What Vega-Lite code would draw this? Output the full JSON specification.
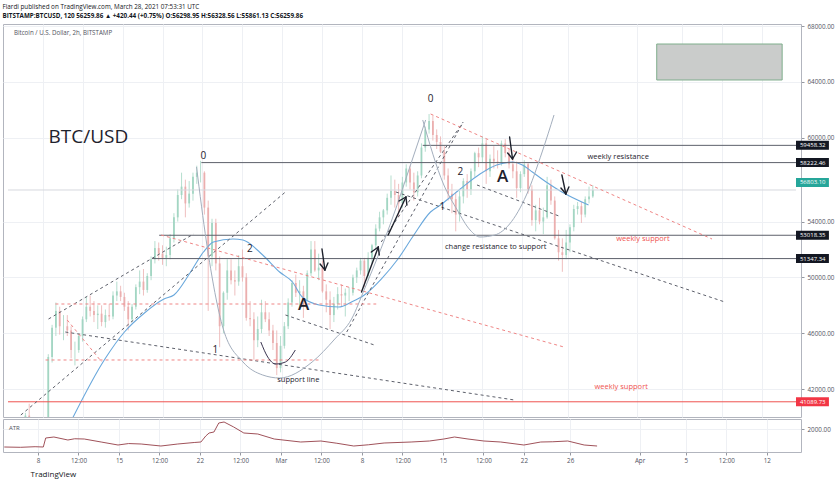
{
"$schema":"https://vega.github.io/schema/vega-lite/v6.json",
"background":"white",
"padding":{"left":2,"top":3,"right":0,"bottom":0},
"title":{"text":"Fiardi published on TradingView.com, March 28, 2021 07:53:31 UTC","subtitle":"BITSTAMP:BTCUSD, 120  56259.86 ▲ +420.44 (+0.75%)  O:56298.95  H:56328.56  L:55861.13  C:56259.86","anchor":"start","fontSize":6.3,"fontWeight":"normal","color":"#131722","subtitleFontSize":6.3,"subtitleFontWeight":"bold","subtitleColor":"#131722","subtitlePadding":2.7,"offset":3.7,"font":"Open Sans","subtitleFont":"Open Sans"},
"spacing":0,
"resolve":{"scale":{"x":"independent","y":"independent"}},
"vconcat":[
{"width":798,"height":393,
"resolve":{"scale":{"color":"independent"}},
"layer":[
{"data":{"values":[
{"t":"2021-02-05T04:00Z","o":36936,"h":37400,"l":36600,"c":37200},
{"t":"2021-02-05T12:00Z","o":37200,"h":37900,"l":36900,"c":37700},
{"t":"2021-02-05T20:00Z","o":37700,"h":38300,"l":37400,"c":38290},
{"t":"2021-02-06T04:00Z","o":38290,"h":39200,"l":38100,"c":39000},
{"t":"2021-02-06T12:00Z","o":39000,"h":40300,"l":38800,"c":40100},
{"t":"2021-02-06T20:00Z","o":40100,"h":40950,"l":39700,"c":39260},
{"t":"2021-02-07T04:00Z","o":39260,"h":39600,"l":38600,"c":38900},
{"t":"2021-02-07T12:00Z","o":38900,"h":39200,"l":37400,"c":38200},
{"t":"2021-02-07T20:00Z","o":38200,"h":39000,"l":37800,"c":38900},
{"t":"2021-02-08T04:00Z","o":38900,"h":39500,"l":38000,"c":38800},
{"t":"2021-02-08T12:00Z","o":38800,"h":44500,"l":38700,"c":44300},
{"t":"2021-02-08T20:00Z","o":44300,"h":46600,"l":43900,"c":46400},
{"t":"2021-02-09T04:00Z","o":46400,"h":48200,"l":45800,"c":47600},
{"t":"2021-02-09T12:00Z","o":47600,"h":47900,"l":45900,"c":46500},
{"t":"2021-02-09T20:00Z","o":46500,"h":47300,"l":45500,"c":46500},
{"t":"2021-02-10T04:00Z","o":46500,"h":47300,"l":45800,"c":46200},
{"t":"2021-02-10T12:00Z","o":46200,"h":46500,"l":44200,"c":44800},
{"t":"2021-02-10T20:00Z","o":44800,"h":45400,"l":43700,"c":44800},
{"t":"2021-02-11T04:00Z","o":44800,"h":46000,"l":44600,"c":45800},
{"t":"2021-02-11T12:00Z","o":45800,"h":47200,"l":45400,"c":47000},
{"t":"2021-02-11T20:00Z","o":47000,"h":48600,"l":46800,"c":47900},
{"t":"2021-02-12T04:00Z","o":47900,"h":48700,"l":47200,"c":47600},
{"t":"2021-02-12T12:00Z","o":47600,"h":48300,"l":46800,"c":47300},
{"t":"2021-02-12T20:00Z","o":47300,"h":48000,"l":46300,"c":47400},
{"t":"2021-02-13T04:00Z","o":47400,"h":48000,"l":46500,"c":46800},
{"t":"2021-02-13T12:00Z","o":46800,"h":47700,"l":46400,"c":47300},
{"t":"2021-02-13T20:00Z","o":47300,"h":48100,"l":46900,"c":47200},
{"t":"2021-02-14T04:00Z","o":47200,"h":49000,"l":47000,"c":48700},
{"t":"2021-02-14T12:00Z","o":48700,"h":49700,"l":48300,"c":49000},
{"t":"2021-02-14T20:00Z","o":49000,"h":49400,"l":48300,"c":48600},
{"t":"2021-02-15T04:00Z","o":48600,"h":48900,"l":47600,"c":47900},
{"t":"2021-02-15T12:00Z","o":47900,"h":48300,"l":46200,"c":47000},
{"t":"2021-02-15T20:00Z","o":47000,"h":48100,"l":46800,"c":47900},
{"t":"2021-02-16T04:00Z","o":47900,"h":49500,"l":47700,"c":49300},
{"t":"2021-02-16T12:00Z","o":49300,"h":50500,"l":48800,"c":49700},
{"t":"2021-02-16T20:00Z","o":49700,"h":50600,"l":48700,"c":49100},
{"t":"2021-02-17T04:00Z","o":49100,"h":50300,"l":48900,"c":50100},
{"t":"2021-02-17T12:00Z","o":50100,"h":51500,"l":49800,"c":51300},
{"t":"2021-02-17T20:00Z","o":51300,"h":52600,"l":51000,"c":52100},
{"t":"2021-02-18T04:00Z","o":52100,"h":52500,"l":51200,"c":51700},
{"t":"2021-02-18T12:00Z","o":51700,"h":52300,"l":50900,"c":51400},
{"t":"2021-02-18T20:00Z","o":51400,"h":52200,"l":50800,"c":51600},
{"t":"2021-02-19T04:00Z","o":51600,"h":53100,"l":51300,"c":52800},
{"t":"2021-02-19T12:00Z","o":52800,"h":54600,"l":52500,"c":54300},
{"t":"2021-02-19T20:00Z","o":54300,"h":56300,"l":54000,"c":55900},
{"t":"2021-02-20T04:00Z","o":55900,"h":57500,"l":55600,"c":56500},
{"t":"2021-02-20T12:00Z","o":56500,"h":57000,"l":54300,"c":55300},
{"t":"2021-02-20T20:00Z","o":55300,"h":56900,"l":55000,"c":56000},
{"t":"2021-02-21T04:00Z","o":56000,"h":57500,"l":55500,"c":57200},
{"t":"2021-02-21T12:00Z","o":57200,"h":58000,"l":56700,"c":57500},
{"t":"2021-02-21T20:00Z","o":57500,"h":58350,"l":56800,"c":57500},
{"t":"2021-02-22T04:00Z","o":57500,"h":57600,"l":54500,"c":55000},
{"t":"2021-02-22T12:00Z","o":55000,"h":55500,"l":47600,"c":51500},
{"t":"2021-02-22T20:00Z","o":51500,"h":54200,"l":50800,"c":53900},
{"t":"2021-02-23T04:00Z","o":53900,"h":54200,"l":50500,"c":51000},
{"t":"2021-02-23T12:00Z","o":51000,"h":51500,"l":45000,"c":46500},
{"t":"2021-02-23T20:00Z","o":46500,"h":49000,"l":46000,"c":48900},
{"t":"2021-02-24T04:00Z","o":48900,"h":51300,"l":48400,"c":50500},
{"t":"2021-02-24T12:00Z","o":50500,"h":51300,"l":49500,"c":49800},
{"t":"2021-02-24T20:00Z","o":49800,"h":50500,"l":48700,"c":49700},
{"t":"2021-02-25T04:00Z","o":49700,"h":51600,"l":49400,"c":50800},
{"t":"2021-02-25T12:00Z","o":50800,"h":52000,"l":49700,"c":50000},
{"t":"2021-02-25T20:00Z","o":50000,"h":50300,"l":46900,"c":47100},
{"t":"2021-02-26T04:00Z","o":47100,"h":48300,"l":46500,"c":47000},
{"t":"2021-02-26T12:00Z","o":47000,"h":47500,"l":44100,"c":45500},
{"t":"2021-02-26T20:00Z","o":45500,"h":47200,"l":45000,"c":46300},
{"t":"2021-02-27T04:00Z","o":46300,"h":48400,"l":46000,"c":47500},
{"t":"2021-02-27T12:00Z","o":47500,"h":48300,"l":46800,"c":47000},
{"t":"2021-02-27T20:00Z","o":47000,"h":47500,"l":45800,"c":46200},
{"t":"2021-02-28T04:00Z","o":46200,"h":46600,"l":44800,"c":45300},
{"t":"2021-02-28T12:00Z","o":45300,"h":46200,"l":43000,"c":43500},
{"t":"2021-02-28T20:00Z","o":43500,"h":45800,"l":43200,"c":45100},
{"t":"2021-03-01T04:00Z","o":45100,"h":46800,"l":44900,"c":46500},
{"t":"2021-03-01T12:00Z","o":46500,"h":48500,"l":46300,"c":48200},
{"t":"2021-03-01T20:00Z","o":48200,"h":49800,"l":47900,"c":49600},
{"t":"2021-03-02T04:00Z","o":49600,"h":50200,"l":48600,"c":48900},
{"t":"2021-03-02T12:00Z","o":48900,"h":49800,"l":47800,"c":49000},
{"t":"2021-03-02T20:00Z","o":49000,"h":49400,"l":47100,"c":48400},
{"t":"2021-03-03T04:00Z","o":48400,"h":50500,"l":48300,"c":50300},
{"t":"2021-03-03T12:00Z","o":50300,"h":52600,"l":50100,"c":52000},
{"t":"2021-03-03T20:00Z","o":52000,"h":52600,"l":50400,"c":50500},
{"t":"2021-03-04T04:00Z","o":50500,"h":51700,"l":49800,"c":50700},
{"t":"2021-03-04T12:00Z","o":50700,"h":51200,"l":48900,"c":49000},
{"t":"2021-03-04T20:00Z","o":49000,"h":49500,"l":47500,"c":48400},
{"t":"2021-03-05T04:00Z","o":48400,"h":49000,"l":46300,"c":47300},
{"t":"2021-03-05T12:00Z","o":47300,"h":48600,"l":46800,"c":48100},
{"t":"2021-03-05T20:00Z","o":48100,"h":49300,"l":47700,"c":48800},
{"t":"2021-03-06T04:00Z","o":48800,"h":49500,"l":47900,"c":48700},
{"t":"2021-03-06T12:00Z","o":48700,"h":49200,"l":47200,"c":48900},
{"t":"2021-03-06T20:00Z","o":48900,"h":49300,"l":48300,"c":48900},
{"t":"2021-03-07T04:00Z","o":48900,"h":50200,"l":48700,"c":50000},
{"t":"2021-03-07T12:00Z","o":50000,"h":50700,"l":49600,"c":50500},
{"t":"2021-03-07T20:00Z","o":50500,"h":51400,"l":50200,"c":51200},
{"t":"2021-03-08T04:00Z","o":51200,"h":51400,"l":49300,"c":50100},
{"t":"2021-03-08T12:00Z","o":50100,"h":51800,"l":49800,"c":51400},
{"t":"2021-03-08T20:00Z","o":51400,"h":52400,"l":51000,"c":52300},
{"t":"2021-03-09T04:00Z","o":52300,"h":53800,"l":52100,"c":53500},
{"t":"2021-03-09T12:00Z","o":53500,"h":54700,"l":53300,"c":54300},
{"t":"2021-03-09T20:00Z","o":54300,"h":54900,"l":53800,"c":54800},
{"t":"2021-03-10T04:00Z","o":54800,"h":56000,"l":54500,"c":55700},
{"t":"2021-03-10T12:00Z","o":55700,"h":57300,"l":55200,"c":56200},
{"t":"2021-03-10T20:00Z","o":56200,"h":57000,"l":55000,"c":55900},
{"t":"2021-03-11T04:00Z","o":55900,"h":56700,"l":54300,"c":55300},
{"t":"2021-03-11T12:00Z","o":55300,"h":57200,"l":55000,"c":56800},
{"t":"2021-03-11T20:00Z","o":56800,"h":58100,"l":56500,"c":57800},
{"t":"2021-03-12T04:00Z","o":57800,"h":58000,"l":56300,"c":56800},
{"t":"2021-03-12T12:00Z","o":56800,"h":57500,"l":55500,"c":56100},
{"t":"2021-03-12T20:00Z","o":56100,"h":57600,"l":55800,"c":57300},
{"t":"2021-03-13T04:00Z","o":57300,"h":59600,"l":57100,"c":59300},
{"t":"2021-03-13T12:00Z","o":59300,"h":60800,"l":59000,"c":60600},
{"t":"2021-03-13T20:00Z","o":60600,"h":61700,"l":60300,"c":61200},
{"t":"2021-03-14T04:00Z","o":61200,"h":61600,"l":59800,"c":60200},
{"t":"2021-03-14T12:00Z","o":60200,"h":60600,"l":59200,"c":59700},
{"t":"2021-03-14T20:00Z","o":59700,"h":60100,"l":58900,"c":59000},
{"t":"2021-03-15T04:00Z","o":59000,"h":59400,"l":57000,"c":57300},
{"t":"2021-03-15T12:00Z","o":57300,"h":57800,"l":55500,"c":56000},
{"t":"2021-03-15T20:00Z","o":56000,"h":56700,"l":54600,"c":55600},
{"t":"2021-03-16T04:00Z","o":55600,"h":56100,"l":53300,"c":54500},
{"t":"2021-03-16T12:00Z","o":54500,"h":56200,"l":54000,"c":55800},
{"t":"2021-03-16T20:00Z","o":55800,"h":57100,"l":55300,"c":56900},
{"t":"2021-03-17T04:00Z","o":56900,"h":57400,"l":55700,"c":56300},
{"t":"2021-03-17T12:00Z","o":56300,"h":57800,"l":55900,"c":57600},
{"t":"2021-03-17T20:00Z","o":57600,"h":59000,"l":57200,"c":58900},
{"t":"2021-03-18T04:00Z","o":58900,"h":59300,"l":57900,"c":58600},
{"t":"2021-03-18T12:00Z","o":58600,"h":60100,"l":58200,"c":59600},
{"t":"2021-03-18T20:00Z","o":59600,"h":59900,"l":56700,"c":57600},
{"t":"2021-03-19T04:00Z","o":57600,"h":58800,"l":57200,"c":58500},
{"t":"2021-03-19T12:00Z","o":58500,"h":59400,"l":57800,"c":58300},
{"t":"2021-03-19T20:00Z","o":58300,"h":59100,"l":57800,"c":58200},
{"t":"2021-03-20T04:00Z","o":58200,"h":59800,"l":58000,"c":59600},
{"t":"2021-03-20T12:00Z","o":59600,"h":59900,"l":58600,"c":58900},
{"t":"2021-03-20T20:00Z","o":58900,"h":59200,"l":57800,"c":58100},
{"t":"2021-03-21T04:00Z","o":58100,"h":58600,"l":57100,"c":57600},
{"t":"2021-03-21T12:00Z","o":57600,"h":58300,"l":55700,"c":56400},
{"t":"2021-03-21T20:00Z","o":56400,"h":57600,"l":56100,"c":57400},
{"t":"2021-03-22T04:00Z","o":57400,"h":58400,"l":57200,"c":58100},
{"t":"2021-03-22T12:00Z","o":58100,"h":58200,"l":56000,"c":56300},
{"t":"2021-03-22T20:00Z","o":56300,"h":56600,"l":53700,"c":54100},
{"t":"2021-03-23T04:00Z","o":54100,"h":55200,"l":53300,"c":54800},
{"t":"2021-03-23T12:00Z","o":54800,"h":55700,"l":53800,"c":54000},
{"t":"2021-03-23T20:00Z","o":54000,"h":55000,"l":53100,"c":54300},
{"t":"2021-03-24T04:00Z","o":54300,"h":57200,"l":54200,"c":56600},
{"t":"2021-03-24T12:00Z","o":56600,"h":57000,"l":55200,"c":55500},
{"t":"2021-03-24T20:00Z","o":55500,"h":55800,"l":52700,"c":52800},
{"t":"2021-03-25T04:00Z","o":52800,"h":53400,"l":51200,"c":51800},
{"t":"2021-03-25T12:00Z","o":51800,"h":52800,"l":50400,"c":51600},
{"t":"2021-03-25T20:00Z","o":51600,"h":53400,"l":51300,"c":52500},
{"t":"2021-03-26T04:00Z","o":52500,"h":53800,"l":51800,"c":53600},
{"t":"2021-03-26T12:00Z","o":53600,"h":55200,"l":53300,"c":54900},
{"t":"2021-03-26T20:00Z","o":54900,"h":55400,"l":54500,"c":55100},
{"t":"2021-03-27T04:00Z","o":55100,"h":55400,"l":53900,"c":54500},
{"t":"2021-03-27T12:00Z","o":54500,"h":55800,"l":54300,"c":55600},
{"t":"2021-03-27T20:00Z","o":55600,"h":56500,"l":55300,"c":55800},
{"t":"2021-03-28T04:00Z","o":55800,"h":56600,"l":55700,"c":56260}
],"format":{"parse":{"t":"date"}}},
"layer":[
{"mark":{"type":"rule","strokeWidth":0.8,"clip":true},
"encoding":{
"x":{"field":"t","type":"temporal","title":null,"scale":{"type":"utc","domain":[{"year":2021,"month":2,"date":4,"hours":23,"minutes":24,"utc":true},{"year":2021,"month":4,"date":14,"hours":22,"minutes":50,"utc":true}]},
"axis":{"orient":"bottom","values":[{"year":2021,"month":2,"date":8,"utc":true},{"year":2021,"month":2,"date":11,"hours":12,"utc":true},{"year":2021,"month":2,"date":15,"utc":true},{"year":2021,"month":2,"date":18,"hours":12,"utc":true},{"year":2021,"month":2,"date":22,"utc":true},{"year":2021,"month":2,"date":25,"hours":12,"utc":true},{"year":2021,"month":3,"date":1,"utc":true},{"year":2021,"month":3,"date":4,"hours":12,"utc":true},{"year":2021,"month":3,"date":8,"utc":true},{"year":2021,"month":3,"date":11,"hours":12,"utc":true},{"year":2021,"month":3,"date":15,"utc":true},{"year":2021,"month":3,"date":18,"hours":12,"utc":true},{"year":2021,"month":3,"date":22,"utc":true},{"year":2021,"month":3,"date":26,"utc":true},{"year":2021,"month":4,"date":1,"utc":true},{"year":2021,"month":4,"date":5,"utc":true},{"year":2021,"month":4,"date":8,"hours":12,"utc":true},{"year":2021,"month":4,"date":12,"utc":true}],"labels":false,"ticks":false,"domain":false,"grid":true}},
"y":{"field":"l","type":"quantitative","title":null,"scale":{"domain":[40000,68150],"nice":false,"zero":false},
"axis":{"orient":"right","values":[42000,44000,46000,48000,50000,52000,54000,56000,60000,62000,64000,66000,68000],"format":".2f","grid":true,"tickSize":3,"labelPadding":3}},
"y2":{"field":"h"},
"color":{"condition":{"test":"datum.c >= datum.o","value":"#a3d6c3"},"value":"#ebafaf"}}},
{"mark":{"type":"bar","size":1.8,"clip":true},
"encoding":{
"x":{"field":"t","type":"temporal","title":null},
"y":{"field":"o","type":"quantitative","title":null},
"y2":{"field":"c"},
"color":{"condition":{"test":"datum.c >= datum.o","value":"#a3d6c3"},"value":"#ebafaf"}}}
]},
{"data":{"values":[
{"t":"2021-02-10T06:00Z","p":39300},{"t":"2021-02-13T11:00Z","p":44154},{"t":"2021-02-15T04:00Z","p":46088},{"t":"2021-02-16T22:00Z","p":47450},{"t":"2021-02-18T15:00Z","p":48452},{"t":"2021-02-19T12:00Z","p":48738},{"t":"2021-02-20T23:00Z","p":50386},{"t":"2021-02-22T02:00Z","p":51818},{"t":"2021-02-22T23:00Z","p":52534},{"t":"2021-02-24T16:00Z","p":52750},{"t":"2021-02-25T13:00Z","p":52678},{"t":"2021-02-27T06:30Z","p":51603},{"t":"2021-02-28T18:00Z","p":50386},{"t":"2021-03-01T21:00Z","p":49670},{"t":"2021-03-02T17:30Z","p":48595},{"t":"2021-03-04T05:00Z","p":48022},{"t":"2021-03-05T22:20Z","p":47879},{"t":"2021-03-07T01:00Z","p":48237},{"t":"2021-03-08T04:00Z","p":48738},{"t":"2021-03-09T15:30Z","p":49884},{"t":"2021-03-11T02:40Z","p":51317},{"t":"2021-03-12T12:00Z","p":53036},{"t":"2021-03-13T23:00Z","p":54683},{"t":"2021-03-14T20:00Z","p":55185},{"t":"2021-03-16T13:30Z","p":56331},{"t":"2021-03-18T07:00Z","p":57406},{"t":"2021-03-19T18:00Z","p":58050},{"t":"2021-03-21T03:20Z","p":58265},{"t":"2021-03-22T00:00Z","p":58050},{"t":"2021-03-22T21:00Z","p":57549},{"t":"2021-03-24T02:00Z","p":56832},{"t":"2021-03-25T11:00Z","p":56116},{"t":"2021-03-27T19:00Z","p":55185}
],"format":{"parse":{"t":"date"}}},
"mark":{"type":"line","color":"#6aa8dc","strokeWidth":1.1,"interpolate":"monotone","clip":true},
"encoding":{"x":{"field":"t","type":"temporal","title":null},"y":{"field":"p","type":"quantitative","title":null}}},
{"data":{"values":[
{"t":"2021-03-13T06:40Z","p":59458.32,"kind":"level"},
{"t":"2021-02-21T21:40Z","p":58222.46,"kind":"level"},
{"t":"2021-02-18T05:00Z","p":53018.35,"kind":"level"},
{"t":"2021-02-17T14:00Z","p":51347.34,"kind":"level"},
{"t":"2021-02-04T23:24Z","p":41089.73,"kind":"red"},
{"t":"2021-02-04T23:24Z","p":56259.86,"kind":"price"}
],"format":{"parse":{"t":"date"}}},
"mark":{"type":"rule","strokeWidth":1},
"encoding":{"x":{"field":"t","type":"temporal","title":null},"x2":{"datum":{"year":2021,"month":4,"date":14,"hours":22,"minutes":50,"utc":true}},"y":{"field":"p","type":"quantitative","title":null},
"color":{"field":"kind","type":"nominal","legend":null,"scale":{"domain":["level","red","price"],"range":["#5d606b","#ef5350","#d6d8de"]}}}},
{"data":{"values":[
{"t":"2021-02-08T12:30Z","p":47019,"t2":"2021-02-21T05:20Z","p2":53107,"kind":"black"},
{"t":"2021-02-06T02:24Z","p":40143,"t2":"2021-03-01T06:15Z","p2":56116,"kind":"black"},
{"t":"2021-02-09T23:50Z","p":46088,"t2":"2021-03-21T07:30Z","p2":41217,"kind":"black"},
{"t":"2021-03-01T06:15Z","p":47306,"t2":"2021-03-09T01:00Z","p2":45157,"kind":"black"},
{"t":"2021-03-10T22:30Z","p":56116,"t2":"2021-04-08T17:20Z","p2":48237,"kind":"black"},
{"t":"2021-03-18T00:40Z","p":56618,"t2":"2021-03-25T04:50Z","p2":54397,"kind":"black"},
{"t":"2021-03-06T15:00Z","p":46088,"t2":"2021-03-16T17:30Z","p2":60987,"kind":"black"},
{"t":"2021-03-09T15:30Z","p":52534,"t2":"2021-03-16T19:40Z","p2":61130,"kind":"black"},
{"t":"2021-02-09T03:00Z","p":48094,"t2":"2021-03-09T05:00Z","p2":48094,"kind":"red"},
{"t":"2021-02-08T06:15Z","p":44083,"t2":"2021-03-04T05:00Z","p2":44083,"kind":"red"},
{"t":"2021-02-18T09:00Z","p":53036,"t2":"2021-03-25T15:20Z","p2":45013,"kind":"red"},
{"t":"2021-03-13T23:15Z","p":61703,"t2":"2021-04-07T14:25Z","p2":52750,"kind":"red"},
{"t":"2021-02-10T03:50Z","p":46947,"t2":"2021-02-13T04:30Z","p2":43939,"kind":"red"}
],"format":{"parse":{"t":"date","t2":"date"}}},
"mark":{"type":"rule","strokeWidth":1,"strokeDash":[3,3]},
"encoding":{"x":{"field":"t","type":"temporal","title":null},"x2":{"field":"t2"},"y":{"field":"p","type":"quantitative","title":null},"y2":{"field":"p2"},
"color":{"field":"kind","type":"nominal","legend":null,"scale":{"domain":["black","red"],"range":["#5d606b","#ef8585"]}}}},
{"data":{"values":[
{"arc":"cup","t":"2021-02-21T11:30Z","p":57907},{"arc":"cup","t":"2021-02-22T08:20Z","p":52534},{"arc":"cup","t":"2021-02-23T19:40Z","p":46303},{"arc":"cup","t":"2021-02-25T13:10Z","p":43939},{"arc":"cup","t":"2021-02-27T06:30Z","p":43008},{"arc":"cup","t":"2021-02-28T17:50Z","p":42793},{"arc":"cup","t":"2021-03-03T14:20Z","p":43939},{"arc":"cup","t":"2021-03-05T14:00Z","p":45586},{"arc":"cup","t":"2021-03-07T01:10Z","p":47019},{"arc":"cup","t":"2021-03-08T04:20Z","p":49168},{"arc":"cup","t":"2021-03-10T12:10Z","p":53967},{"arc":"cup","t":"2021-03-12T12:00Z","p":58767},{"arc":"cup","t":"2021-03-13T12:45Z","p":61274},
{"arc":"cup2","t":"2021-03-13T06:40Z","p":61274},{"arc":"cup2","t":"2021-03-15T02:10Z","p":56689},{"arc":"cup2","t":"2021-03-16T07:10Z","p":54827},{"arc":"cup2","t":"2021-03-17T10:10Z","p":53394},{"arc":"cup2","t":"2021-03-18T07:00Z","p":52893},{"arc":"cup2","t":"2021-03-19T14:00Z","p":53036},{"arc":"cup2","t":"2021-03-20T21:10Z","p":53824},{"arc":"cup2","t":"2021-03-22T08:30Z","p":55901},{"arc":"cup2","t":"2021-03-23T17:30Z","p":58982},{"arc":"cup2","t":"2021-03-24T18:30Z","p":61632},
{"arc":"small","t":"2021-02-27T02:30Z","p":45372},{"arc":"small","t":"2021-02-27T17:00Z","p":44298},{"arc":"small","t":"2021-02-28T09:40Z","p":43796},{"arc":"small","t":"2021-03-01T06:15Z","p":43939},{"arc":"small","t":"2021-03-02T03:00Z","p":44799}
],"format":{"parse":{"t":"date"}}},
"mark":{"type":"line","strokeWidth":1,"interpolate":"monotone"},
"encoding":{"x":{"field":"t","type":"temporal","title":null},"y":{"field":"p","type":"quantitative","title":null},"detail":{"field":"arc"},
"color":{"field":"arc","type":"nominal","legend":null,"scale":{"domain":["cup","cup2","small"],"range":["#a3aebd","#a3aebd","#3a3450"]}}}},
{"data":{"values":[
{"t":"2021-03-04T11:00Z","p":52033,"t2":"2021-03-04T17:15Z","p2":50529},
{"t":"2021-03-04T07:00Z","p":50959,"t2":"2021-03-04T17:15Z","p2":50529},
{"t":"2021-03-04T23:30Z","p":51030,"t2":"2021-03-04T17:15Z","p2":50529},
{"t":"2021-03-20T21:10Z","p":60056,"t2":"2021-03-21T03:20Z","p2":58480},
{"t":"2021-03-20T17:00Z","p":58910,"t2":"2021-03-21T03:20Z","p2":58480},
{"t":"2021-03-21T11:45Z","p":58981,"t2":"2021-03-21T03:20Z","p2":58480},
{"t":"2021-03-25T11:00Z","p":57334,"t2":"2021-03-25T19:25Z","p2":55973},
{"t":"2021-03-25T09:00Z","p":56403,"t2":"2021-03-25T19:25Z","p2":55973},
{"t":"2021-03-26T01:40Z","p":56474,"t2":"2021-03-25T19:25Z","p2":55973},
{"t":"2021-03-07T22:00Z","p":48953,"t2":"2021-03-09T09:20Z","p2":52176},
{"t":"2021-03-08T18:40Z","p":51818,"t2":"2021-03-09T09:20Z","p2":52176},
{"t":"2021-03-09T11:20Z","p":51603,"t2":"2021-03-09T09:20Z","p2":52176},
{"t":"2021-03-10T06:00Z","p":53036,"t2":"2021-03-11T19:25Z","p2":55758},
{"t":"2021-03-11T04:50Z","p":55471,"t2":"2021-03-11T19:25Z","p2":55758},
{"t":"2021-03-11T21:25Z","p":55185,"t2":"2021-03-11T19:25Z","p2":55758}
],"format":{"parse":{"t":"date","t2":"date"}}},
"mark":{"type":"rule","strokeWidth":1.4,"color":"#1e222d","strokeCap":"round"},
"encoding":{"x":{"field":"t","type":"temporal","title":null},"x2":{"field":"t2"},"y":{"field":"p","type":"quantitative","title":null},"y2":{"field":"p2"}}},
{"data":{"values":[{"t":"2021-04-02T18:15Z","t2":"2021-04-13T17:45Z","p":64139,"p2":66717}],"format":{"parse":{"t":"date","t2":"date"}}},
"mark":{"type":"rect","fill":"#cacccb","stroke":"#7fae8c","strokeWidth":1},
"encoding":{"x":{"field":"t","type":"temporal","title":null},"x2":{"field":"t2"},"y":{"field":"p","type":"quantitative","title":null},"y2":{"field":"p2"}}},
{"data":{"values":[
{"kind":"big","t":"2021-02-08T12:30Z","p":60056,"label":"BTC/USD"},
{"kind":"info","t":"2021-02-05T11:45Z","p":67505,"label":"Bitcoin / U.S. Dollar, 2h, BITSTAMP"},
{"kind":"num","t":"2021-02-22T02:00Z","p":58695,"label":"0"},
{"kind":"num","t":"2021-03-13T23:15Z","p":62778,"label":"0"},
{"kind":"num","t":"2021-02-26T03:30Z","p":52033,"label":"2"},
{"kind":"num","t":"2021-02-23T03:00Z","p":44799,"label":"1"},
{"kind":"num","t":"2021-03-15T00:00Z","p":55042,"label":"1"},
{"kind":"num","t":"2021-03-16T13:30Z","p":57549,"label":"2"},
{"kind":"letter","t":"2021-03-02T20:30Z","p":48022,"label":"A"},
{"kind":"letter","t":"2021-03-20T06:40Z","p":57191,"label":"A"},
{"kind":"note","t":"2021-03-02T09:20Z","p":42650,"label":"support line"},
{"kind":"note","t":"2021-03-30T09:20Z","p":58623,"label":"weekly resistance"},
{"kind":"note","t":"2021-03-19T16:00Z","p":52176,"label":"change resistance to support"},
{"kind":"red","t":"2021-04-01T13:10Z","p":52750,"label":"weekly support"},
{"kind":"red","t":"2021-03-30T15:35Z","p":42148,"label":"weekly support"}
],"format":{"parse":{"t":"date"}}},
"encoding":{"x":{"field":"t","type":"temporal","title":null},"y":{"field":"p","type":"quantitative","title":null},"text":{"field":"label"}},
"layer":[
{"transform":[{"filter":"datum.kind == 'big'"}],"mark":{"type":"text","align":"left","baseline":"middle","fontSize":19,"color":"#1e222d","font":"Open Sans"}},
{"transform":[{"filter":"datum.kind == 'info'"}],"mark":{"type":"text","align":"left","baseline":"middle","fontSize":6.2,"color":"#50535e","font":"Open Sans"}},
{"transform":[{"filter":"datum.kind == 'num'"}],"mark":{"type":"text","align":"center","baseline":"middle","fontSize":10,"color":"#1e222d","font":"Open Sans"}},
{"transform":[{"filter":"datum.kind == 'letter'"}],"mark":{"type":"text","align":"center","baseline":"middle","fontSize":17,"color":"#1e222d","font":"Open Sans","fontWeight":600}},
{"transform":[{"filter":"datum.kind == 'note'"}],"mark":{"type":"text","align":"center","baseline":"middle","fontSize":7.5,"color":"#1e222d","font":"Open Sans"}},
{"transform":[{"filter":"datum.kind == 'red'"}],"mark":{"type":"text","align":"center","baseline":"middle","fontSize":7.5,"color":"#ef5350","font":"Open Sans"}}
]},
{"data":{"values":[
{"p":59458.32,"label":"59458.32","kind":"black"},
{"p":58222.46,"label":"58222.46","kind":"black"},
{"p":56803.10,"label":"56803.10","kind":"green"},
{"p":53018.35,"label":"53018.35","kind":"black"},
{"p":51347.34,"label":"51347.34","kind":"black"},
{"p":41089.73,"label":"41089.73","kind":"red"}
]},
"layer":[
{"mark":{"type":"rule","strokeWidth":9,"strokeCap":"butt"},
"encoding":{"x":{"datum":{"year":2021,"month":4,"date":14,"hours":22,"minutes":50,"utc":true},"type":"temporal"},"x2":{"datum":{"year":2021,"month":4,"date":17,"hours":20,"utc":true}},"y":{"field":"p","type":"quantitative","title":null},
"color":{"field":"kind","type":"nominal","legend":null,"scale":{"domain":["black","green","red"],"range":["#131722","#26a69a","#f23645"]}}}},
{"mark":{"type":"text","align":"center","baseline":"middle","fontSize":6,"color":"white","font":"Open Sans"},
"encoding":{"x":{"datum":{"year":2021,"month":4,"date":16,"hours":10,"utc":true},"type":"temporal"},"y":{"field":"p","type":"quantitative","title":null},"text":{"field":"label"}}}
]}
]},
{"width":798,"height":33,
"layer":[
{"data":{"values":[
{"t":"2021-02-05T02:00Z","p":800},{"t":"2021-02-06T12:00Z","p":780},{"t":"2021-02-07T18:00Z","p":820},{"t":"2021-02-08T11:00Z","p":800},{"t":"2021-02-08T16:00Z","p":1400},{"t":"2021-02-09T09:00Z","p":1467},{"t":"2021-02-10T14:00Z","p":1267},{"t":"2021-02-11T04:00Z","p":1350},{"t":"2021-02-12T00:00Z","p":1333},{"t":"2021-02-13T11:00Z","p":1133},{"t":"2021-02-14T22:00Z","p":933},{"t":"2021-02-15T20:00Z","p":1030},{"t":"2021-02-16T22:00Z","p":1000},{"t":"2021-02-18T15:00Z","p":867},{"t":"2021-02-20T02:00Z","p":1000},{"t":"2021-02-21T12:00Z","p":1100},{"t":"2021-02-22T02:00Z","p":1133},{"t":"2021-02-22T12:00Z","p":1533},{"t":"2021-02-22T19:00Z","p":1733},{"t":"2021-02-23T05:00Z","p":1800},{"t":"2021-02-23T15:00Z","p":2400},{"t":"2021-02-24T02:00Z","p":2467},{"t":"2021-02-24T22:00Z","p":2133},{"t":"2021-02-25T19:00Z","p":1733},{"t":"2021-02-27T00:00Z","p":1667},{"t":"2021-02-28T10:00Z","p":1333},{"t":"2021-03-02T17:00Z","p":1133},{"t":"2021-03-04T11:00Z","p":1200},{"t":"2021-03-05T20:00Z","p":1050},{"t":"2021-03-07T07:00Z","p":867},{"t":"2021-03-08T14:00Z","p":950},{"t":"2021-03-09T22:00Z","p":1067},{"t":"2021-03-12T06:00Z","p":1133},{"t":"2021-03-13T20:00Z","p":1200},{"t":"2021-03-15T02:00Z","p":1333},{"t":"2021-03-16T00:00Z","p":1467},{"t":"2021-03-17T04:00Z","p":1333},{"t":"2021-03-18T13:00Z","p":1200},{"t":"2021-03-20T00:00Z","p":1133},{"t":"2021-03-22T00:00Z","p":933},{"t":"2021-03-23T11:00Z","p":1133},{"t":"2021-03-24T12:00Z","p":1150},{"t":"2021-03-25T19:00Z","p":1200},{"t":"2021-03-27T05:00Z","p":933},{"t":"2021-03-28T07:50Z","p":867}
],"format":{"parse":{"t":"date"}}},
"mark":{"type":"line","color":"#a0525a","strokeWidth":1,"clip":true},
"encoding":{
"x":{"field":"t","type":"temporal","title":"TradingView","scale":{"type":"utc","domain":[{"year":2021,"month":2,"date":4,"hours":23,"minutes":24,"utc":true},{"year":2021,"month":4,"date":14,"hours":22,"minutes":50,"utc":true}]},
"axis":{"orient":"bottom","values":[{"year":2021,"month":2,"date":8,"utc":true},{"year":2021,"month":2,"date":11,"hours":12,"utc":true},{"year":2021,"month":2,"date":15,"utc":true},{"year":2021,"month":2,"date":18,"hours":12,"utc":true},{"year":2021,"month":2,"date":22,"utc":true},{"year":2021,"month":2,"date":25,"hours":12,"utc":true},{"year":2021,"month":3,"date":1,"utc":true},{"year":2021,"month":3,"date":4,"hours":12,"utc":true},{"year":2021,"month":3,"date":8,"utc":true},{"year":2021,"month":3,"date":11,"hours":12,"utc":true},{"year":2021,"month":3,"date":15,"utc":true},{"year":2021,"month":3,"date":18,"hours":12,"utc":true},{"year":2021,"month":3,"date":22,"utc":true},{"year":2021,"month":3,"date":26,"utc":true},{"year":2021,"month":4,"date":1,"utc":true},{"year":2021,"month":4,"date":5,"utc":true},{"year":2021,"month":4,"date":8,"hours":12,"utc":true},{"year":2021,"month":4,"date":12,"utc":true}],
"labelExpr":"utchours(datum.value) == 12 ? '12:00' : (utcdate(datum.value) == 1 ? utcFormat(datum.value, '%b') : '' + utcdate(datum.value))",
"grid":true,"ticks":true,"tickSize":3,"domain":false,"labelPadding":2,"labelFlush":false,
"titleX":27,"titleY":22,"titleAlign":"left","titleBaseline":"middle","titleFontSize":8,"titleFontWeight":"normal","titleColor":"#131722"}},
"y":{"field":"p","type":"quantitative","title":null,"scale":{"domain":[467,2667],"nice":false,"zero":false},
"axis":{"orient":"right","values":[2000],"format":".2f","grid":true,"tickSize":3,"labelPadding":3}}}},
{"data":{"values":[{"t":"2021-02-05T11:45Z","p":2067,"label":"ATR"}],"format":{"parse":{"t":"date"}}},
"mark":{"type":"text","align":"left","baseline":"middle","fontSize":6,"color":"#50535e","font":"Open Sans"},
"encoding":{"x":{"field":"t","type":"temporal","title":"TradingView"},"y":{"field":"p","type":"quantitative","title":null},"text":{"field":"label"}}}
]}
],
"config":{
"view":{"stroke":"#b2b5be","strokeWidth":1},
"axis":{"labelFont":"Open Sans","labelFontSize":6.3,"labelColor":"#50535e","gridColor":"#eef0f4","gridWidth":1,"tickColor":"#9598a1","domain":false,"titleFont":"Open Sans"}
}
}
